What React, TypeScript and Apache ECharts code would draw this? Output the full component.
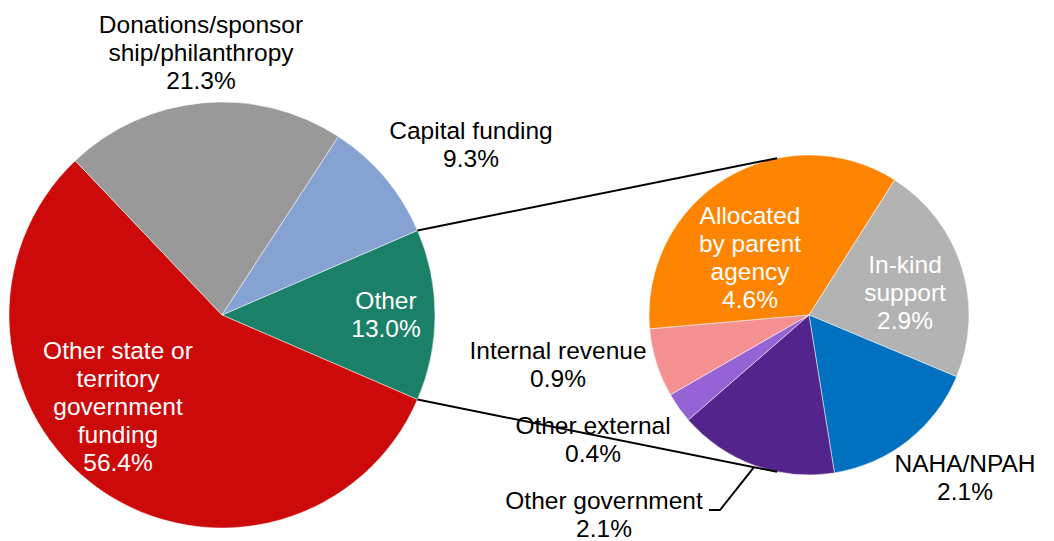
import React, { useEffect, useRef } from "react";
import * as echarts from "echarts";

// ---- data ----
const mainCategories = [
  "Other",
  "Other state or\nterritory\ngovernment\nfunding",
  "Donations/sponsor\nship/philanthropy",
  "Capital funding",
];
const mainValues = [13.0, 56.4, 21.3, 9.3];

const subCategories = [
  "Allocated\nby parent\nagency",
  "In-kind\nsupport",
  "NAHA/NPAH",
  "Other government",
  "Other external",
  "Internal revenue",
];
const subValues = [4.6, 2.9, 2.1, 2.1, 0.4, 0.9];

// ---- style ----
const mainColors = ["#1B8068", "#CC0A0A", "#999999", "#86A2D2"];
const subColors = ["#FF8500", "#B3B3B3", "#0070C0", "#53248C", "#9563D6", "#F59090"];
const mainLabelColors = ["#fff", "#fff", "#000", "#000"];
const subLabelColors = ["#fff", "#fff", "#000", "#000", "#000", "#000"];
const mainLabelPos = [
  [386, 314],
  [118, 406],
  [201, 52],
  [471, 144],
];
const subLabelPos = [
  [750, 257],
  [905, 292],
  [965, 477],
  [604, 514],
  [593, 439],
  [558, 364],
];
const MAIN_C = [222, 315];
const MAIN_R = 213;
const SUB_C = [809, 315];
const SUB_R = 160;
const SUB_START = 185;
const CONNECT_ANGLE = 101.5;
const FONT = "'Liberation Sans', Arial, sans-serif";
const FONT_SIZE = 24.5;
const LINE_H = 28;

const sum = (a: number[]) => a.reduce((s, v) => s + v, 0);

export default function App() {
  const ref = useRef<HTMLDivElement>(null);

  useEffect(() => {
    if (!ref.current) return;
    const chart = echarts.init(ref.current, undefined, { renderer: "svg" });

    const mainTotal = sum(mainValues);
    const mainStart = (mainValues[0] / mainTotal) * 180;
    const half = (mainStart * Math.PI) / 180;
    const p1 = [MAIN_C[0] + MAIN_R * Math.cos(half), MAIN_C[1] - MAIN_R * Math.sin(half)];
    const p2 = [MAIN_C[0] + MAIN_R * Math.cos(half), MAIN_C[1] + MAIN_R * Math.sin(half)];
    const ca = (CONNECT_ANGLE * Math.PI) / 180;
    const q1 = [SUB_C[0] + SUB_R * Math.cos(ca), SUB_C[1] - SUB_R * Math.sin(ca)];
    const q2 = [SUB_C[0] + SUB_R * Math.cos(ca), SUB_C[1] + SUB_R * Math.sin(ca)];

    // leader line for "Other government" (index 3): mid-angle of its slice
    const subTotal = sum(subValues);
    let acc = 0;
    for (let i = 0; i < 3; i++) acc += subValues[i];
    const midDeg = SUB_START - ((acc + subValues[3] / 2) / subTotal) * 360;
    const mr = (midDeg * Math.PI) / 180;
    const l0 = [SUB_C[0] + (SUB_R + 2) * Math.cos(mr), SUB_C[1] - (SUB_R + 2) * Math.sin(mr)];

    const labelBase = {
      show: true,
      position: "inside",
      fontFamily: FONT,
      fontSize: FONT_SIZE,
      lineHeight: LINE_H,
      align: "center",
      formatter: (p: any) => `${p.name}\n${Number(p.value).toFixed(1)}%`,
    };

    const lineStyle = { stroke: "#000", lineWidth: 2 };

    const option: any = {
      animation: false,
      backgroundColor: "#fff",
      graphic: [
        {
          type: "line",
          z: 100,
          shape: { x1: p1[0], y1: p1[1], x2: q1[0], y2: q1[1] },
          style: lineStyle,
          silent: true,
        },
        {
          type: "line",
          z: 100,
          shape: { x1: p2[0], y1: p2[1], x2: q2[0], y2: q2[1] },
          style: lineStyle,
          silent: true,
        },
        {
          type: "polyline",
          z: 100,
          shape: { points: [l0, [720, 510], [709, 510]] },
          style: { ...lineStyle, fill: "none" },
          silent: true,
        },
      ],
      series: [
        {
          type: "pie",
          center: MAIN_C,
          radius: MAIN_R,
          startAngle: mainStart,
          clockwise: true,
          silent: true,
          avoidLabelOverlap: false,
          itemStyle: { borderColor: "#fff", borderWidth: 0.5 },
          label: labelBase,
          labelLine: { show: false },
          emphasis: { disabled: true },
          labelLayout: (params: any) => {
            const p = mainLabelPos[params.dataIndex];
            return { x: p[0], y: p[1], align: "center", verticalAlign: "middle" };
          },
          data: mainCategories.map((name, i) => ({
            name,
            value: mainValues[i],
            itemStyle: { color: mainColors[i] },
            label: { color: mainLabelColors[i] },
          })),
        },
        {
          type: "pie",
          center: SUB_C,
          radius: SUB_R,
          startAngle: SUB_START,
          clockwise: true,
          silent: true,
          avoidLabelOverlap: false,
          itemStyle: { borderColor: "#fff", borderWidth: 0.5 },
          label: labelBase,
          labelLine: { show: false },
          emphasis: { disabled: true },
          labelLayout: (params: any) => {
            const p = subLabelPos[params.dataIndex];
            return { x: p[0], y: p[1], align: "center", verticalAlign: "middle" };
          },
          data: subCategories.map((name, i) => ({
            name,
            value: subValues[i],
            itemStyle: { color: subColors[i] },
            label: { color: subLabelColors[i] },
          })),
        },
      ],
    };

    chart.setOption(option);
    return () => chart.dispose();
  }, []);

  return (
    <div
      ref={ref}
      style={{ position: "fixed", left: 0, top: 0, width: 1054, height: 541 }}
    />
  );
}
